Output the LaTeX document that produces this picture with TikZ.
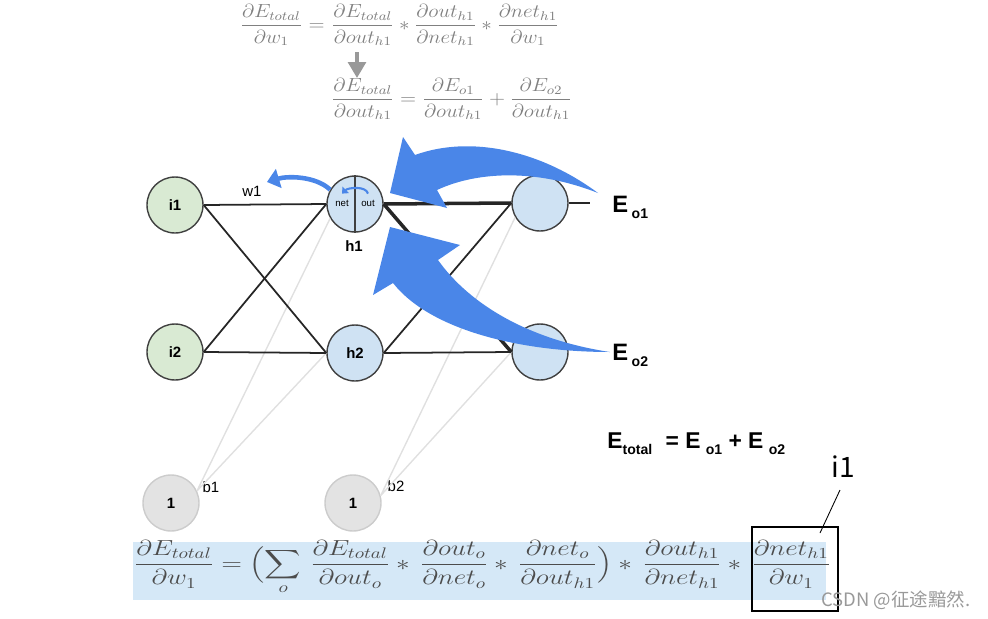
\RequirePackage{fix-cm}
\documentclass[tikz,border=0pt]{standalone}
\usepackage{amsmath}
\usepackage{fontspec}
\newfontfamily\arial{Liberation Sans}
\newfontfamily\cjk{Noto Sans CJK SC}
\usetikzlibrary{arrows.meta}
\definecolor{ingreen}{HTML}{D9EAD3}
\definecolor{hidblue}{HTML}{CFE2F3}
\definecolor{biasgray}{HTML}{E3E3E3}
\definecolor{arrblue}{HTML}{4A86E8}
\definecolor{hilite}{HTML}{D5E8F7}
\newcommand{\esub}[1]{\raisebox{-0.55ex}{\fontsize{8}{9}\selectfont #1}}
\newcommand{\squash}[2]{\scalebox{1}[#1]{#2}}
\tikzset{
  neuron/.style={circle,draw=black!75,line width=0.8pt,minimum size=1.12cm,inner sep=0pt,font=\arial\bfseries\fontsize{8.5}{10}\selectfont},
  bias/.style={neuron,draw=black!20,fill=biasgray},
  lab/.style={font=\arial\fontsize{8.5}{10}\selectfont},
  errlab/.style={anchor=base west,inner sep=0pt,font=\arial\bfseries\fontsize{13.5}{16}\selectfont},
  wire/.style={line width=1pt,black!85},
  faint/.style={line width=0.8pt,black!12},
  topeq/.style={inner sep=0pt,text=black!50,font=\fontsize{12}{14}\selectfont}
}
\begin{document}
\begin{tikzpicture}[x=0.02cm,y=-0.02cm]
\useasboundingbox (0,0) rectangle (988,619);
\fill[hilite] (133,542) rectangle (826,600);

\node[topeq,anchor=base east] (gradl) at (331,30) {\squash{0.9}{$\displaystyle\frac{\partial E_{total}}{\partial w_1}={}$}};
\node[topeq,anchor=base west] (gradr) at (331,30) {\squash{0.9}{$\displaystyle\frac{\partial E_{total}}{\partial out_{h1}}*\frac{\partial out_{h1}}{\partial net_{h1}}*\frac{\partial net_{h1}}{\partial w_1}$}};
\node[topeq,anchor=base west] (grad2) at (331,104) {\squash{0.9}{$\displaystyle\frac{\partial E_{total}}{\partial out_{h1}}=\frac{\partial E_{o1}}{\partial out_{h1}}+\frac{\partial E_{o2}}{\partial out_{h1}}$}};
\coordinate (dtop) at (357,52);
\coordinate (dbot) at (357,78);
\draw[black!40,line width=2pt,-{Triangle[length=9pt,width=10pt]}] (dtop) -- (dbot);

\node[neuron,fill=ingreen] (i1) at (175,205) {i1};
\node[neuron,fill=ingreen] (i2) at (175,352) {i2};
\node[neuron,fill=hidblue] (h1) at (355,204) {};
\node[neuron,fill=hidblue] (h2) at (355,353) {h2};
\node[neuron,fill=hidblue] (o1) at (540,203) {};
\node[neuron,fill=hidblue] (o2) at (540,352) {};
\node[bias] (b1) at (171,503) {1};
\node[bias] (b2) at (353,503) {1};

\node[font=\arial\fontsize{5.5}{6}\selectfont] (net) at (342,203) {net};
\node[font=\arial\fontsize{5.5}{6}\selectfont] (out) at (368,203) {out};
\draw[line width=0.8pt,black!75] (h1.north) -- (h1.south);
\node[font=\arial\bfseries\fontsize{8.5}{10}\selectfont] (h1lab) at (354,246) {h1};
\node[lab] (w1) at (252,191) {w1};
\node[lab] (b1lab) at (211,487) {b1};
\node[lab] (b2lab) at (396,486) {b2};

\draw[faint] (b1.25) -- (h1.210) (b1.25) -- (h2.west);
\draw[faint] (b2.15) -- (o1.210) (b2.15) -- (o2.west);
\coordinate (eo1end) at (590,203);
\draw[wire] (i1.east) -- (h1.west) (i1.east) -- (h2.west);
\draw[wire] (i2.east) -- (h1.west) (i2.east) -- (h2.west);
\draw[wire] (h2.east) -- (o1.west) (h2.east) -- (o2.west);
\draw[wire] (o1.east) -- (eo1end);
\draw[wire,line width=2pt] (h1.east) -- (o1.west) (h1.east) -- (o2.west);

\fill[arrblue] (598,193) .. controls (540,150) and (470,135) .. (415,155) -- (403,137) -- (390,193) -- (447,208) -- (437,190) .. controls (480,170) and (540,170) .. (598,193) -- cycle;
\fill[arrblue] (610,352) .. controls (530,340) and (470,305) .. (438,260) -- (460,245) -- (390,227) -- (373,295) -- (393,283) .. controls (430,330) and (520,352) .. (610,352) -- cycle;
\coordinate (w1tip) at (267,182);
\draw[arrblue,line width=2.6pt,-{Triangle[length=7pt,width=11pt]}] (h1.150) .. controls +(-15,-14) and +(20,-6) .. (w1tip);
\draw[arrblue,line width=1.2pt,-{Triangle[length=3pt,width=5pt]}] (out.north) .. controls +(-2,-8) and +(6,-6) .. (net.north);

\node[errlab] (eo1) at (612,212) {E\kern2pt\esub{o1}};
\node[errlab] (eo2) at (612,360) {E\kern2pt\esub{o2}};
\node[errlab,font=\arial\bfseries\fontsize{13}{15}\selectfont] (etotal) at (607,448) {E\esub{total}\hspace{4pt} = E\kern3pt\esub{o1} + E\kern3pt\esub{o2}};

\node[anchor=base west,inner sep=0pt,text=black!70,font=\fontsize{15.5}{18}\selectfont] (chain) at (134,570) {\squash{0.8}{$\displaystyle\frac{\partial E_{total}}{\partial w_1}=\Bigl(\sum\limits_o\,\frac{\partial E_{total}}{\partial out_o}*\,\frac{\partial out_o}{\partial net_o}*\,\frac{\partial net_o}{\partial out_{h1}}\Bigr)*\,\frac{\partial out_{h1}}{\partial net_{h1}}*\,\frac{\partial net_{h1}}{\partial w_1}$}};
\node[draw,line width=0.6pt,inner sep=0pt,minimum width=1.72cm,minimum height=1.68cm] (sel) at (795,569) {};
\node[font=\cjk\fontsize{16}{18}\selectfont] (sellab) at (843,467) {i1};
\coordinate (selpt) at (820,533);
\draw[line width=0.5pt] (840,490) -- (selpt);
\node[anchor=west,inner sep=0pt,font=\cjk\fontsize{10.5}{12}\selectfont,text=black!40] (mark) at (821,600) {CSDN @征途黯然.};
\end{tikzpicture}
\end{document}
